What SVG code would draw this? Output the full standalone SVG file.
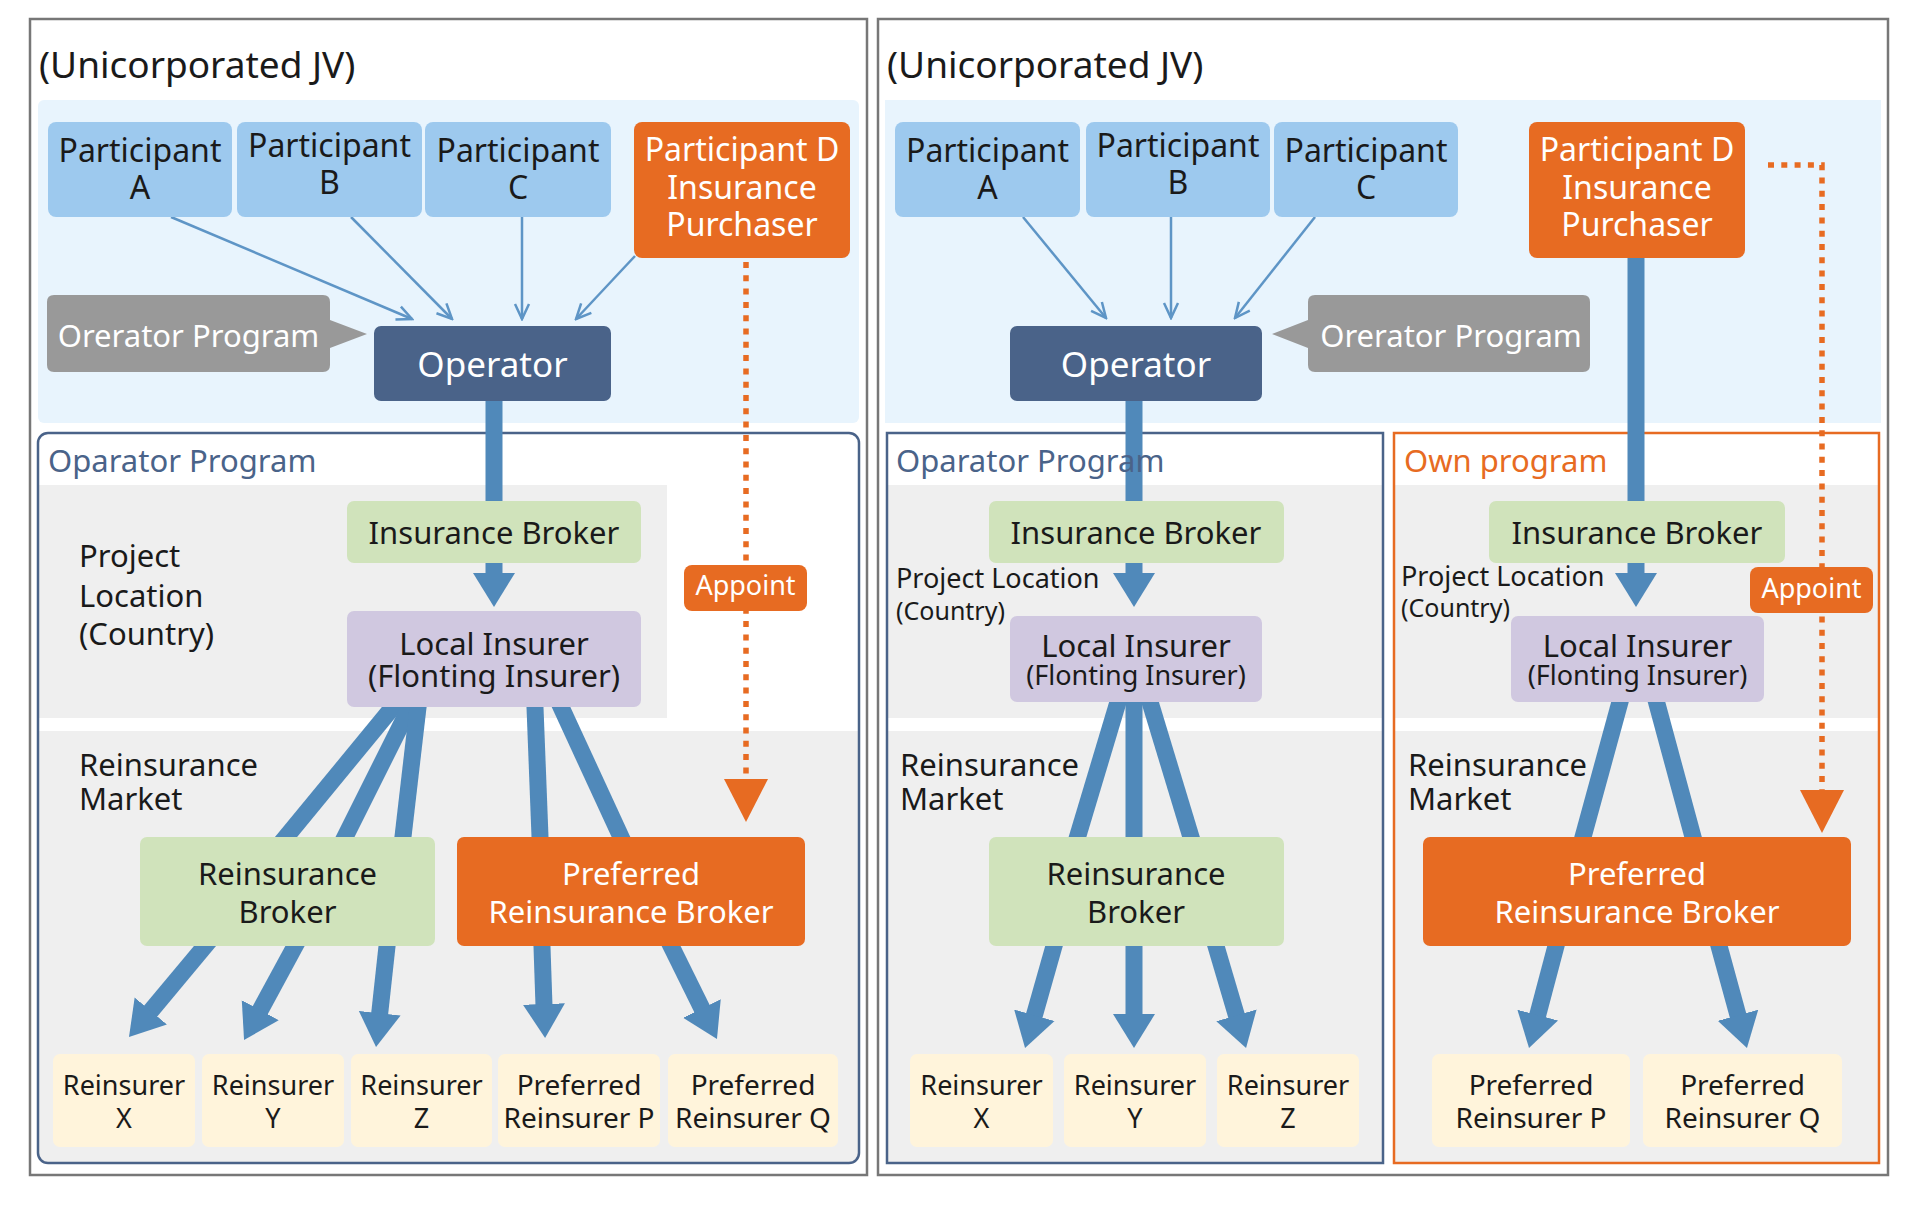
<svg xmlns="http://www.w3.org/2000/svg" width="1919" height="1206" viewBox="0 0 1919 1206">
<style>
text{font-family:"Noto Sans","Open Sans","Liberation Sans",sans-serif;fill:#1a1a1a}
.c{text-anchor:middle}
.w{fill:#fff}
.t37{font-size:37px}.t35{font-size:35px}.t32{font-size:32px}.t31{font-size:31px}.t28{font-size:28px}.t27{font-size:27px}.t25{font-size:25px}
.frame{fill:#fff;stroke:#777;stroke-width:2.5}
.band{fill:#E8F4FD}
.part{fill:#9DC9EE}
.org{fill:#E76B22}
.opr{fill:#4A6389}
.call{fill:#999}
.zone{fill:#EFEFEF}
.grn{fill:#D0E3BB}
.lav{fill:#D0C8E0}
.cream{fill:#FFF4DB}
.bbox{fill:none;stroke:#4A6389;stroke-width:2.5}
.obox{fill:none;stroke:#E76B22;stroke-width:2.5}
.thick{stroke:#5089BA;stroke-width:17;fill:none}
.thin{stroke:#5E95C6;stroke-width:2.5;fill:none}
.dot{stroke:#E76B22;stroke-width:5.5;stroke-dasharray:6 7.3;fill:none}
.blab{fill:#4A6389}
.olab{fill:#E76B22}
</style>
<defs>
<marker id="ah" markerUnits="userSpaceOnUse" viewBox="-2 -22 34 44" markerWidth="34" markerHeight="44" refX="0" refY="0" orient="auto"><path d="M-2,-21 L32,0 L-2,21 Z" fill="#5089BA"/></marker>
<marker id="oh" markerUnits="userSpaceOnUse" viewBox="-18 -9 20 18" markerWidth="20" markerHeight="18" refX="0" refY="0" orient="auto"><path d="M-15,-7 L0,0 L-15,7" fill="none" stroke="#5E95C6" stroke-width="2.5"/></marker>
<marker id="dh" markerUnits="userSpaceOnUse" viewBox="-1 -23 44 46" markerWidth="44" markerHeight="46" refX="0" refY="0" orient="auto"><path d="M-1,-22 L42,0 L-1,22 Z" fill="#E76B22"/></marker>
</defs>

<g id="background">
<rect class="frame" x="30" y="19" width="837" height="1156"/>
<rect class="frame" x="878" y="19" width="1010" height="1156"/>
<rect class="band" x="38" y="100" width="821" height="323" rx="6"/>
<rect class="band" x="885" y="100" width="996" height="323"/>
<text class="t37" x="39" y="78">(Unicorporated JV)</text>
<text class="t37" x="887" y="78">(Unicorporated JV)</text>
</g>

<g id="left-program">
<rect x="38" y="433" width="821" height="730" rx="10" fill="#fff"/>
<rect class="zone" x="39" y="485" width="628" height="233"/>
<path class="zone" d="M39,731 H858 V1153 Q858,1162 849,1162 H48 Q39,1162 39,1153 Z"/>
<rect class="bbox" x="38" y="433" width="821" height="730" rx="10"/>
</g>
<g id="right-programs">
<rect x="887" y="433" width="496" height="730" fill="#fff"/>
<rect class="zone" x="888" y="485" width="494" height="233"/>
<rect class="zone" x="888" y="731" width="494" height="431"/>
<rect class="bbox" x="887" y="433" width="496" height="730"/>
<rect x="1394" y="433" width="485" height="730" fill="#fff"/>
<rect class="zone" x="1395" y="485" width="483" height="233"/>
<rect class="zone" x="1395" y="731" width="483" height="431"/>
<rect class="obox" x="1394" y="433" width="485" height="730"/>
</g>

<g id="connectors">
<line class="thin" x1="171" y1="217" x2="412" y2="319" marker-end="url(#oh)"/>
<line class="thin" x1="351" y1="217" x2="452" y2="319" marker-end="url(#oh)"/>
<line class="thin" x1="522" y1="217" x2="522" y2="319" marker-end="url(#oh)"/>
<line class="thin" x1="635" y1="256" x2="576" y2="319" marker-end="url(#oh)"/>
<line class="thin" x1="1023" y1="217" x2="1106" y2="318" marker-end="url(#oh)"/>
<line class="thin" x1="1171" y1="217" x2="1171" y2="318" marker-end="url(#oh)"/>
<line class="thin" x1="1315" y1="217" x2="1235" y2="318" marker-end="url(#oh)"/>

<line class="thick" x1="494" y1="395" x2="494" y2="505"/>
<line class="thick" x1="1134" y1="395" x2="1134" y2="505"/>
<line class="thick" x1="1636" y1="250" x2="1636" y2="505"/>

<line class="thick" x1="494" y1="555" x2="494" y2="575" marker-end="url(#ah)"/>
<line class="thick" x1="1134" y1="555" x2="1134" y2="575" marker-end="url(#ah)"/>
<line class="thick" x1="1636" y1="555" x2="1636" y2="575" marker-end="url(#ah)"/>

<line class="thick" x1="401.2" y1="697" x2="277.8" y2="847"/>
<line class="thick" x1="415" y1="697" x2="340" y2="847"/>
<line class="thick" x1="419.2" y1="697" x2="401.8" y2="847"/>
<line class="thick" x1="534.6" y1="697" x2="540.4" y2="847"/>
<line class="thick" x1="556.4" y1="697" x2="625.6" y2="847"/>
<line class="thick" x1="1121" y1="692" x2="1074.5" y2="847"/>
<line class="thick" x1="1134" y1="692" x2="1134" y2="847"/>
<line class="thick" x1="1147" y1="692" x2="1194" y2="847"/>
<line class="thick" x1="1622.7" y1="692" x2="1580.3" y2="847"/>
<line class="thick" x1="1653.8" y1="692" x2="1695.7" y2="847"/>

<line class="thick" x1="210.1" y1="939.9" x2="149.5" y2="1012.5" marker-end="url(#ah)"/>
<line class="thick" x1="298.8" y1="939" x2="259.3" y2="1011.9" marker-end="url(#ah)"/>
<line class="thick" x1="387.9" y1="938" x2="379.5" y2="1015.2" marker-end="url(#ah)"/>
<line class="thick" x1="541.7" y1="938" x2="544" y2="1006" marker-end="url(#ah)"/>
<line class="thick" x1="667.5" y1="938.8" x2="702.8" y2="1010.3" marker-end="url(#ah)"/>
<line class="thick" x1="1056.2" y1="938.3" x2="1033.8" y2="1017.2" marker-end="url(#ah)"/>
<line class="thick" x1="1134" y1="938" x2="1134" y2="1016" marker-end="url(#ah)"/>
<line class="thick" x1="1213.7" y1="938.3" x2="1237" y2="1017.3" marker-end="url(#ah)"/>
<line class="thick" x1="1558" y1="938.3" x2="1537.2" y2="1017" marker-end="url(#ah)"/>
<line class="thick" x1="1716.9" y1="938.3" x2="1738.5" y2="1017.2" marker-end="url(#ah)"/>

<line class="dot" x1="746" y1="262" x2="746" y2="780" marker-end="url(#dh)"/>
<polyline class="dot" points="1768,165 1822,165 1822,791" marker-end="url(#dh)"/>
</g>

<g id="labels">
<text class="t31 blab" x="48" y="472">Oparator Program</text>
<text class="t31 blab" x="896" y="472">Oparator Program</text>
<text class="t31 olab" x="1404" y="472">Own program</text>
<text class="t31" x="79" y="567">Project</text>
<text class="t31" x="79" y="607">Location</text>
<text class="t31" x="79" y="645">(Country)</text>
<text class="t31" x="79" y="776">Reinsurance</text>
<text class="t31" x="79" y="810">Market</text>
<text class="t27" x="896" y="588">Project Location</text>
<text class="t25" x="896" y="620">(Country)</text>
<text class="t31" x="900" y="776">Reinsurance</text>
<text class="t31" x="900" y="810">Market</text>
<text class="t27" x="1401" y="586">Project Location</text>
<text class="t25" x="1401" y="617">(Country)</text>
<text class="t31" x="1408" y="776">Reinsurance</text>
<text class="t31" x="1408" y="810">Market</text>
</g>

<g id="L-participant-a"><rect class="part" x="48" y="122" width="184" height="95" rx="8"/><text class="t32 c" x="140" y="162">Participant</text><text class="t32 c" x="140" y="199">A</text></g>
<g id="L-participant-b"><rect class="part" x="237" y="122" width="185" height="95" rx="8"/><text class="t32 c" x="329.5" y="157">Participant</text><text class="t32 c" x="329.5" y="194">B</text></g>
<g id="L-participant-c"><rect class="part" x="425" y="122" width="186" height="95" rx="8"/><text class="t32 c" x="518" y="162">Participant</text><text class="t32 c" x="518" y="199">C</text></g>
<g id="L-participant-d"><rect class="org" x="634" y="122" width="216" height="136" rx="8"/><text class="t32 c w" x="742" y="161">Participant D</text><text class="t32 c w" x="742" y="199">Insurance</text><text class="t32 c w" x="742" y="236">Purchaser</text></g>
<g id="L-callout"><path class="call" d="M54,295 H323 Q330,295 330,302 V320 L367,334 L330,348 V365 Q330,372 323,372 H54 Q47,372 47,365 V302 Q47,295 54,295 Z"/><text class="t31 c w" x="188.5" y="347">Orerator Program</text></g>
<g id="L-operator"><rect class="opr" x="374" y="326" width="237" height="75" rx="7"/><text class="t35 c w" x="492.5" y="377">Operator</text></g>
<g id="L-insurance-broker"><rect class="grn" x="347" y="501" width="294" height="62" rx="7"/><text class="t31 c" x="494" y="544">Insurance Broker</text></g>
<g id="L-local-insurer"><rect class="lav" x="347" y="611" width="294" height="96" rx="7"/><text class="t31 c" x="494" y="655">Local Insurer</text><text class="t31 c" x="494" y="687">(Flonting Insurer)</text></g>
<g id="L-appoint"><rect class="org" x="684" y="565" width="123" height="46" rx="8"/><text class="t27 c w" x="745.5" y="595">Appoint</text></g>
<g id="L-reinsurance-broker"><rect class="grn" x="140" y="837" width="295" height="109" rx="7"/><text class="t31 c" x="287.5" y="885">Reinsurance</text><text class="t31 c" x="287.5" y="923">Broker</text></g>
<g id="L-preferred-broker"><rect class="org" x="457" y="837" width="348" height="109" rx="7"/><text class="t31 c w" x="631" y="885">Preferred</text><text class="t31 c w" x="631" y="923">Reinsurance Broker</text></g>
<g id="L-reinsurer-x"><rect class="cream" x="53" y="1054" width="142" height="93" rx="7"/><text class="t27 c" x="124" y="1095">Reinsurer</text><text class="t27 c" x="124" y="1128">X</text></g>
<g id="L-reinsurer-y"><rect class="cream" x="202" y="1054" width="142" height="93" rx="7"/><text class="t27 c" x="273" y="1095">Reinsurer</text><text class="t27 c" x="273" y="1128">Y</text></g>
<g id="L-reinsurer-z"><rect class="cream" x="351" y="1054" width="141" height="93" rx="7"/><text class="t27 c" x="421.5" y="1095">Reinsurer</text><text class="t27 c" x="421.5" y="1128">Z</text></g>
<g id="L-reinsurer-p"><rect class="cream" x="498" y="1054" width="162" height="93" rx="7"/><text class="t28 c" x="579" y="1095">Preferred</text><text class="t28 c" x="579" y="1128">Reinsurer P</text></g>
<g id="L-reinsurer-q"><rect class="cream" x="668" y="1054" width="170" height="93" rx="7"/><text class="t28 c" x="753" y="1095">Preferred</text><text class="t28 c" x="753" y="1128">Reinsurer Q</text></g>

<g id="R-participant-a"><rect class="part" x="895" y="122" width="185" height="95" rx="8"/><text class="t32 c" x="987.5" y="162">Participant</text><text class="t32 c" x="987.5" y="199">A</text></g>
<g id="R-participant-b"><rect class="part" x="1086" y="122" width="184" height="95" rx="8"/><text class="t32 c" x="1178" y="157">Participant</text><text class="t32 c" x="1178" y="194">B</text></g>
<g id="R-participant-c"><rect class="part" x="1274" y="122" width="184" height="95" rx="8"/><text class="t32 c" x="1366" y="162">Participant</text><text class="t32 c" x="1366" y="199">C</text></g>
<g id="R-participant-d"><rect class="org" x="1529" y="122" width="216" height="136" rx="8"/><text class="t32 c w" x="1637" y="161">Participant D</text><text class="t32 c w" x="1637" y="199">Insurance</text><text class="t32 c w" x="1637" y="236">Purchaser</text></g>
<g id="R-callout"><path class="call" d="M1315,295 H1583 Q1590,295 1590,302 V365 Q1590,372 1583,372 H1315 Q1308,372 1308,365 V348 L1272,334 L1308,320 V302 Q1308,295 1315,295 Z"/><text class="t31 c w" x="1451" y="347">Orerator Program</text></g>
<g id="R-operator"><rect class="opr" x="1010" y="326" width="252" height="75" rx="7"/><text class="t35 c w" x="1136" y="377">Operator</text></g>
<g id="R-insurance-broker"><rect class="grn" x="989" y="501" width="295" height="62" rx="7"/><text class="t31 c" x="1136" y="544">Insurance Broker</text></g>
<g id="R-local-insurer"><rect class="lav" x="1010" y="616" width="252" height="86" rx="7"/><text class="t31 c" x="1136" y="657">Local Insurer</text><text class="t27 c" x="1136" y="685">(Flonting Insurer)</text></g>
<g id="R-reinsurance-broker"><rect class="grn" x="989" y="837" width="295" height="109" rx="7"/><text class="t31 c" x="1136" y="885">Reinsurance</text><text class="t31 c" x="1136" y="923">Broker</text></g>
<g id="R-reinsurer-x"><rect class="cream" x="910" y="1054" width="143" height="93" rx="7"/><text class="t27 c" x="981.5" y="1095">Reinsurer</text><text class="t27 c" x="981.5" y="1128">X</text></g>
<g id="R-reinsurer-y"><rect class="cream" x="1064" y="1054" width="142" height="93" rx="7"/><text class="t27 c" x="1135" y="1095">Reinsurer</text><text class="t27 c" x="1135" y="1128">Y</text></g>
<g id="R-reinsurer-z"><rect class="cream" x="1217" y="1054" width="142" height="93" rx="7"/><text class="t27 c" x="1288" y="1095">Reinsurer</text><text class="t27 c" x="1288" y="1128">Z</text></g>
<g id="O-insurance-broker"><rect class="grn" x="1489" y="501" width="296" height="62" rx="7"/><text class="t31 c" x="1637" y="544">Insurance Broker</text></g>
<g id="O-local-insurer"><rect class="lav" x="1511" y="616" width="253" height="86" rx="7"/><text class="t31 c" x="1637.5" y="657">Local Insurer</text><text class="t27 c" x="1637.5" y="685">(Flonting Insurer)</text></g>
<g id="O-appoint"><rect class="org" x="1750" y="567" width="123" height="46" rx="8"/><text class="t27 c w" x="1811.5" y="598">Appoint</text></g>
<g id="O-preferred-broker"><rect class="org" x="1423" y="837" width="428" height="109" rx="7"/><text class="t31 c w" x="1637" y="885">Preferred</text><text class="t31 c w" x="1637" y="923">Reinsurance Broker</text></g>
<g id="O-reinsurer-p"><rect class="cream" x="1432" y="1054" width="198" height="93" rx="7"/><text class="t28 c" x="1531" y="1095">Preferred</text><text class="t28 c" x="1531" y="1128">Reinsurer P</text></g>
<g id="O-reinsurer-q"><rect class="cream" x="1643" y="1054" width="199" height="93" rx="7"/><text class="t28 c" x="1742.5" y="1095">Preferred</text><text class="t28 c" x="1742.5" y="1128">Reinsurer Q</text></g>
</svg>
